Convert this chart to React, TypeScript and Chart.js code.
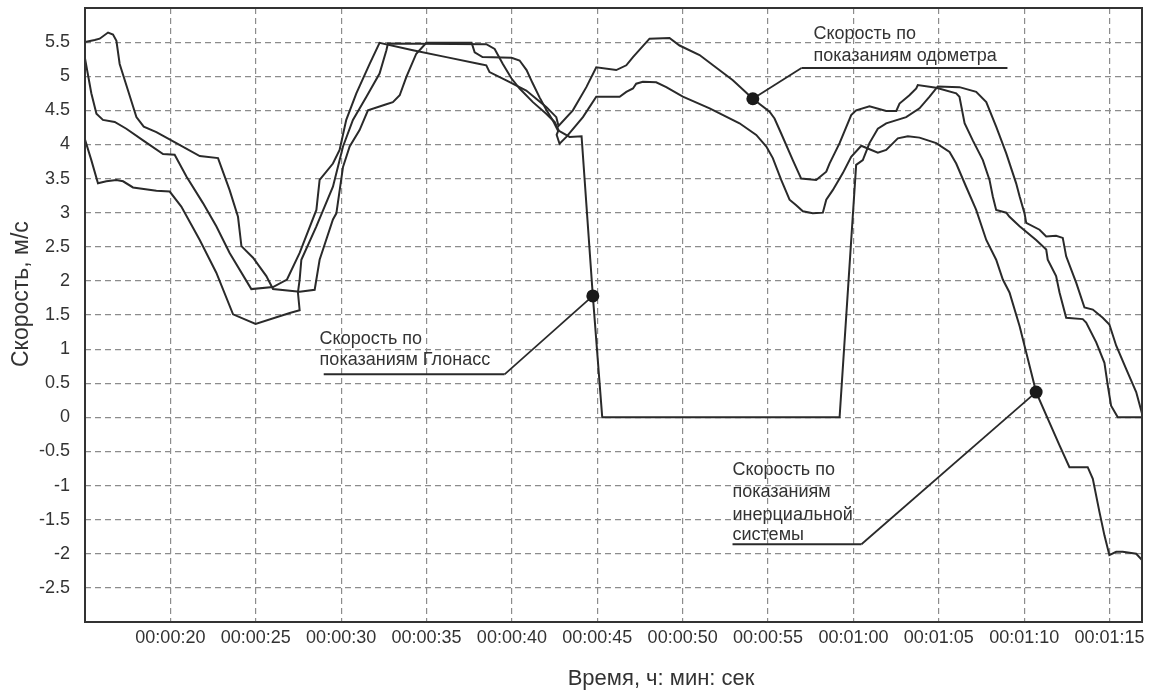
import React, { useEffect, useRef } from "react";
import { Chart, registerables } from "chart.js";

Chart.register(...registerables);

// ---- data (seconds, m/s) ----
const glonassTime = [15.0, 15.57, 15.86, 16.35, 16.64, 16.84, 17.03, 17.52, 18.01, 18.44, 19.18, 20.35, 21.72, 22.79, 23.47, 23.96, 24.16, 24.84, 25.62, 26.01, 27.57, 28.45, 28.74, 29.52, 29.72, 30.11, 30.5, 31.08, 31.57, 32.65, 33.03, 33.43, 33.82, 34.4, 34.99, 37.64, 37.82, 38.28, 39.98, 40.45, 40.86, 41.21, 41.62, 42.03, 42.38, 42.68, 43.38, 44.08, 44.74, 45.29, 59.19, 60.16, 60.55, 60.94, 61.43, 61.92, 63.09, 63.87, 64.46, 64.94, 66.21, 67.19, 67.78, 68.36, 68.95, 69.53, 69.73, 70.02, 70.12, 70.9, 71.29, 71.87, 72.26, 72.46, 73.05, 73.53, 74.02, 74.6, 74.99, 75.39, 75.97, 76.56, 76.94];
const glonassSpeed = [5.5, 5.53, 5.55, 5.64, 5.61, 5.52, 5.18, 4.79, 4.4, 4.26, 4.18, 4.02, 3.83, 3.8, 3.33, 2.94, 2.51, 2.34, 2.07, 1.88, 1.84, 1.87, 2.31, 2.9, 2.99, 3.67, 3.97, 4.21, 4.5, 4.59, 4.62, 4.72, 4.99, 5.33, 5.49, 5.49, 5.35, 5.28, 5.27, 5.23, 5.09, 4.9, 4.69, 4.5, 4.36, 4.21, 4.11, 4.12, 1.78, 0, 0, 3.7, 3.77, 4.02, 4.23, 4.31, 4.4, 4.53, 4.7, 4.85, 4.84, 4.77, 4.62, 4.26, 3.87, 3.43, 3.24, 2.99, 2.85, 2.75, 2.65, 2.66, 2.63, 2.36, 1.97, 1.61, 1.58, 1.46, 1.36, 1.05, 0.71, 0.37, 0.02];

const odometerTime = [15.0, 15.37, 15.67, 16.05, 16.74, 17.42, 18.4, 19.57, 20.25, 20.94, 21.91, 22.69, 23.47, 24.74, 26.01, 26.83, 27.57, 28.55, 28.74, 29.52, 29.91, 30.3, 30.89, 31.67, 32.25, 34.2, 36.16, 38.11, 38.5, 38.69, 39.67, 40.84, 42.01, 42.6, 42.73, 43.57, 44.36, 44.94, 46.11, 46.7, 47.09, 48.06, 49.23, 49.82, 50.99, 52.94, 54.11, 55.09, 55.38, 55.77, 56.45, 56.94, 57.82, 58.41, 58.6, 59.19, 59.87, 60.16, 60.94, 61.92, 62.51, 62.7, 63.28, 63.68, 63.77, 64.85, 66.02, 66.21, 66.51, 66.99, 67.58, 67.97, 68.16, 68.36, 68.95, 69.14, 69.73, 70.7, 71.29, 71.38, 71.87, 72.07, 72.46, 73.43, 73.63, 74.22, 74.7, 74.9, 75.09, 75.48, 76.93];
const odometerSpeed = [5.26, 4.75, 4.45, 4.36, 4.33, 4.23, 4.06, 3.86, 3.85, 3.53, 3.14, 2.8, 2.41, 1.88, 1.91, 2.02, 2.41, 3.04, 3.48, 3.72, 3.92, 4.36, 4.75, 5.18, 5.49, 5.38, 5.28, 5.18, 5.16, 5.06, 4.94, 4.79, 4.55, 4.4, 4.27, 4.5, 4.84, 5.13, 5.09, 5.16, 5.28, 5.55, 5.56, 5.45, 5.31, 4.94, 4.67, 4.48, 4.38, 4.16, 3.77, 3.5, 3.48, 3.6, 3.72, 4.02, 4.43, 4.5, 4.56, 4.49, 4.49, 4.6, 4.72, 4.82, 4.87, 4.83, 4.75, 4.7, 4.31, 4.06, 3.77, 3.48, 3.24, 3.04, 3.0, 2.94, 2.8, 2.6, 2.46, 2.31, 2.07, 1.83, 1.46, 1.44, 1.39, 1.1, 0.8, 0.46, 0.17, 0, 0];

const inertialTime = [15.0, 15.37, 15.76, 16.25, 16.84, 17.23, 17.81, 19.18, 19.96, 20.64, 21.72, 22.69, 23.67, 24.99, 26.99, 27.57, 27.47, 27.57, 27.67, 28.55, 29.52, 30.11, 30.69, 31.48, 32.25, 32.65, 32.74, 38.5, 38.99, 39.47, 39.97, 40.45, 41.23, 42.01, 42.5, 42.73, 42.62, 42.79, 43.19, 44.16, 44.94, 46.31, 46.7, 47.09, 47.28, 47.67, 48.45, 49.04, 50.01, 51.58, 53.33, 54.31, 54.9, 55.28, 55.77, 56.26, 56.65, 57.04, 57.62, 58.21, 58.41, 58.79, 59.38, 59.87, 60.46, 60.84, 61.43, 61.92, 62.6, 63.19, 63.87, 64.85, 65.63, 66.02, 66.6, 67.19, 67.78, 68.36, 68.75, 69.14, 69.73, 70.12, 70.41, 70.7, 71.38, 72.07, 72.65, 73.72, 74.02, 74.41, 74.7, 74.99, 75.39, 75.77, 76.56, 76.93];
const inertialSpeed = [4.07, 3.77, 3.43, 3.46, 3.48, 3.46, 3.37, 3.32, 3.31, 3.09, 2.6, 2.12, 1.51, 1.37, 1.53, 1.57, 1.83, 2.02, 2.31, 2.8, 3.38, 3.97, 4.36, 4.7, 5.04, 5.38, 5.48, 5.47, 5.4, 5.18, 4.97, 4.82, 4.62, 4.45, 4.33, 4.21, 4.14, 4.01, 4.11, 4.4, 4.7, 4.7, 4.77, 4.82, 4.89, 4.92, 4.91, 4.84, 4.7, 4.53, 4.31, 4.14, 3.97, 3.8, 3.48, 3.19, 3.11, 3.02, 2.99, 3.0, 3.19, 3.33, 3.58, 3.82, 3.98, 3.94, 3.88, 3.92, 4.09, 4.12, 4.1, 4.02, 3.89, 3.72, 3.38, 3.04, 2.6, 2.31, 2.02, 1.83, 1.34, 0.95, 0.66, 0.37, -0.02, -0.41, -0.73, -0.73, -0.9, -1.39, -1.73, -2.02, -1.97, -1.97, -2.0, -2.1];

const xTickSeconds = [20, 25, 30, 35, 40, 45, 50, 55, 60, 65, 70, 75];
const yTickValues = [-2.5, -2, -1.5, -1, -0.5, 0, 0.5, 1, 1.5, 2, 2.5, 3, 3.5, 4, 4.5, 5, 5.5];

const xAxisTitle = "Время, ч: мин: сек";
const yAxisTitle = "Скорость, м/с";

const odometerLabel = ["Скорость по", "показаниям одометра"];
const glonassLabel = ["Скорость по", "показаниям Глонасс"];
const inertialLabel = ["Скорость по", "показаниям", "инерциальной", "системы"];

// callout geometry in data units (time s, speed m/s)
const callouts = [
  { lines: odometerLabel, textX: 57.66, baselines: [5.55, 5.23], ulFrom: 56.96, ulTo: 69.02, ulY: 5.12, joint: "from", dot: [54.11, 4.67] },
  { lines: glonassLabel, textX: 28.74, baselines: [1.08, 0.76], ulFrom: 28.98, ulTo: 39.57, ulY: 0.63, joint: "to", dot: [44.74, 1.78] },
  { lines: inertialLabel, textX: 52.92, baselines: [-0.85, -1.17, -1.5, -1.8], ulFrom: 52.92, ulTo: 60.47, ulY: -1.86, joint: "to", dot: [70.7, 0.37] },
];

const FONT = '"Liberation Sans", Arial, Helvetica, sans-serif';
const INK = "#2a2a2a";

function fmtTime(s: number): string {
  const m = Math.floor(s / 60);
  const sec = Math.round(s % 60);
  const p = (n: number) => (n < 10 ? "0" + n : String(n));
  return "00:" + p(m) + ":" + p(sec);
}

function pts(t: number[], v: number[]) {
  return t.map((x, i) => ({ x, y: v[i] }));
}

const decorPlugin = {
  id: "decor",
  afterDatasetsDraw(chart: any) {
    const { ctx, chartArea: a, scales } = chart;
    const xs = scales.x;
    const ys = scales.y;
    ctx.save();
    ctx.setLineDash([]);
    // frame
    ctx.strokeStyle = "#333";
    ctx.lineWidth = 2;
    ctx.strokeRect(a.left, a.top, a.right - a.left, a.bottom - a.top);

    // callouts
    ctx.font = "18px " + FONT;
    ctx.textAlign = "left";
    ctx.textBaseline = "alphabetic";
    for (const c of callouts) {
      const x1 = xs.getPixelForValue(c.ulFrom);
      const x2 = xs.getPixelForValue(c.ulTo);
      const yu = ys.getPixelForValue(c.ulY);
      const jx = c.joint === "from" ? x1 : x2;
      const dx = xs.getPixelForValue(c.dot[0]);
      const dy = ys.getPixelForValue(c.dot[1]);
      ctx.strokeStyle = INK;
      ctx.lineWidth = 2;
      ctx.beginPath();
      ctx.moveTo(x1, yu);
      ctx.lineTo(x2, yu);
      ctx.stroke();
      ctx.lineWidth = 1.8;
      ctx.beginPath();
      ctx.moveTo(jx, yu);
      ctx.lineTo(dx, dy);
      ctx.stroke();
      ctx.fillStyle = "#1a1a1a";
      ctx.beginPath();
      ctx.arc(dx, dy, 6.5, 0, Math.PI * 2);
      ctx.fill();
      ctx.fillStyle = "#333";
      const tx = xs.getPixelForValue(c.textX);
      c.lines.forEach((line: string, i: number) => {
        ctx.fillText(line, tx, ys.getPixelForValue(c.baselines[i]));
      });
    }
    ctx.restore();
  },
  afterDraw(chart: any) {
    const { ctx, chartArea: a } = chart;
    ctx.save();
    ctx.fillStyle = "#333";
    ctx.textBaseline = "alphabetic";
    ctx.textAlign = "center";
    ctx.font = "22px " + FONT;
    ctx.fillText(xAxisTitle, a.left + 0.545 * (a.right - a.left), a.bottom + 63);
    ctx.font = "23px " + FONT;
    ctx.translate(a.left - 57, a.top + 0.466 * (a.bottom - a.top));
    ctx.rotate(-Math.PI / 2);
    ctx.fillText(yAxisTitle, 0, 0);
    ctx.restore();
  },
};

export default function App() {
  const ref = useRef<HTMLCanvasElement | null>(null);

  useEffect(() => {
    if (!ref.current) return;
    const lineStyle = {
      borderColor: INK,
      borderWidth: 2,
      pointRadius: 0,
      tension: 0,
      fill: false,
    };
    const chart = new Chart(ref.current, {
      type: "line",
      data: {
        datasets: [
          { label: "Глонасс", data: pts(glonassTime, glonassSpeed), ...lineStyle },
          { label: "Одометр", data: pts(odometerTime, odometerSpeed), ...lineStyle },
          { label: "Инерциальная система", data: pts(inertialTime, inertialSpeed), ...lineStyle },
        ],
      },
      options: {
        responsive: false,
        animation: false,
        events: [],
        layout: { padding: { left: 0, top: 8, right: 7, bottom: 0 } },
        plugins: { legend: { display: false }, tooltip: { enabled: false }, title: { display: false } },
        scales: {
          x: {
            type: "linear",
            min: 15,
            max: 76.9,
            afterBuildTicks: (s: any) => {
              s.ticks = xTickSeconds.map((v) => ({ value: v }));
            },
            afterFit: (s: any) => {
              s.height = 71;
              s.paddingLeft = 0;
              s.paddingRight = 0;
            },
            ticks: {
              autoSkip: false,
              maxRotation: 0,
              padding: 5,
              color: "#333",
              font: { family: FONT, size: 18 },
              callback: (v: any) => fmtTime(Number(v)),
            },
            grid: { color: "#8c8c8c", lineWidth: 1.2, drawTicks: false },
            border: { display: false, dash: [6, 4] },
          },
          y: {
            type: "linear",
            min: -3,
            max: 6,
            afterBuildTicks: (s: any) => {
              s.ticks = yTickValues.map((v) => ({ value: v }));
            },
            afterFit: (s: any) => {
              s.width = 85;
              s.paddingTop = 0;
              s.paddingBottom = 0;
            },
            ticks: {
              autoSkip: false,
              padding: 15,
              color: "#333",
              font: { family: FONT, size: 18 },
              callback: (v: any) => String(v),
            },
            grid: { color: "#8c8c8c", lineWidth: 1.2, drawTicks: false },
            border: { display: false, dash: [6, 4] },
          },
        },
      },
      plugins: [decorPlugin],
    } as any);
    return () => chart.destroy();
  }, []);

  return (
    <div style={{ position: "fixed", left: 0, top: 0, width: 1149, height: 693, background: "#fff" }}>
      <canvas ref={ref} width={1149} height={693} style={{ display: "block" }} />
    </div>
  );
}
